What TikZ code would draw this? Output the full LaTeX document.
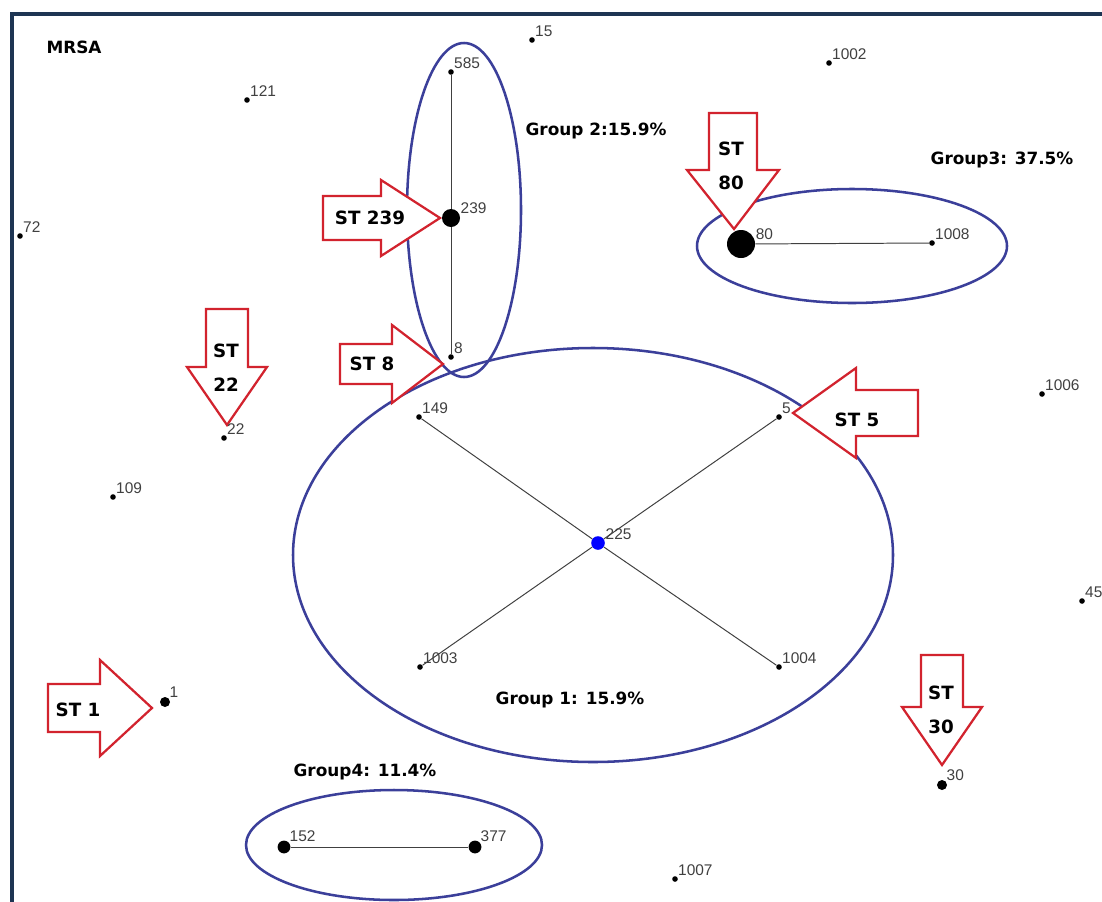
\documentclass[tikz,border=0pt]{standalone}
\usepackage{fontspec}
\setmainfont{Liberation Sans}
\newfontfamily\grpfont{DejaVu Sans}
\definecolor{grpblue}{HTML}{3B3F9A}
\definecolor{stred}{HTML}{D2232E}
\definecolor{framec}{HTML}{1E3553}
\tikzset{
  st/.style={circle,fill=black,inner sep=0pt,minimum size=1.4mm},
  num/.style={font=\fontsize{11}{12}\selectfont,text=black!75,inner sep=0.5pt},
  grp/.style={draw=grpblue,line width=1.8pt},
  link/.style={draw=black!75,line width=0.7pt},
  starrow/.style={draw=stred,fill=white,line width=1.6pt,line join=miter},
  stlabel/.style={font=\grpfont\bfseries\fontsize{13}{24}\selectfont,align=center,inner sep=0pt},
  grplabel/.style={font=\grpfont\bfseries\fontsize{12}{14}\selectfont,inner sep=0pt}
}
\begin{document}
\begin{tikzpicture}[x=0.025cm,y=-0.025cm]
\useasboundingbox (0,0) rectangle (1102,901);
\clip (0,0) rectangle (1102,901);
\fill[white] (0,0) rectangle (1102,901);
\draw[framec,line width=2.2pt] (12,14) rectangle (1130,930);

\node[grplabel] (mrsa) at (74,47) {MRSA};

% groups
\draw[grp] (593,555) ellipse [x radius=300, y radius=207];
\draw[grp] (464,210) ellipse [x radius=57, y radius=167];
\draw[grp] (852,246) ellipse [x radius=155, y radius=57];
\draw[grp] (394,845) ellipse [x radius=148, y radius=55];

\node[grplabel] (g1) at (570,700) {Group 1: 15.9\%};
\node[grplabel] (g2) at (596,131) {Group 2:15.9\%};
\node[grplabel] (g3) at (1002,160) {Group3: 37.5\%};
\node[grplabel] (g4) at (365,772) {Group4: 11.4\%};

% ST arrows
\draw[starrow] (323,196) -- (381,196) -- (381,180) -- (440,218) -- (381,256) -- (381,240) -- (323,240) -- cycle;
\draw[starrow] (340,344) -- (392,344) -- (392,325) -- (443,364) -- (392,403) -- (392,384) -- (340,384) -- cycle;
\draw[starrow] (48,684) -- (100,684) -- (100,660) -- (152,708) -- (100,756) -- (100,732) -- (48,732) -- cycle;
\draw[starrow] (918,390) -- (856,390) -- (856,368) -- (793,413) -- (856,458) -- (856,436) -- (918,436) -- cycle;
\draw[starrow] (206,309) -- (206,367) -- (187,367) -- (227,425) -- (267,367) -- (248,367) -- (248,309) -- cycle;
\draw[starrow] (709,113) -- (709,170) -- (687,170) -- (734,229) -- (779,170) -- (757,170) -- (757,113) -- cycle;
\draw[starrow] (921,655) -- (921,707) -- (902,707) -- (942,765) -- (982,707) -- (963,707) -- (963,655) -- cycle;

\node[stlabel] (l239) at (370,218) {ST 239};
\node[stlabel] (l8) at (372,364) {ST 8};
\node[stlabel] (l1) at (78,710) {ST 1};
\node[stlabel] (l5) at (857,420) {ST 5};
\node[stlabel] (l22) at (226,368) {ST\\22};
\node[stlabel] (l80) at (731,166) {ST\\80};
\node[stlabel] (l30) at (941,710) {ST\\30};

% sequence types
\node[st,label={[num]north east:15}] (s15) at (532,40) {};
\node[st,label={[num]north east:121}] (s121) at (247,100) {};
\node[st,label={[num]north east:72}] (s72) at (20,236) {};
\node[st,label={[num]north east:1002}] (s1002) at (829,63) {};
\node[st,label={[num]north east:585}] (s585) at (451,72) {};
\node[st,minimum size=4.5mm,label={[num]20:239}] (s239) at (451,218) {};
\node[st,label={[num]north east:8}] (s8) at (451,357) {};
\node[st,label={[num]north east:22}] (s22) at (224,438) {};
\node[st,label={[num]north east:109}] (s109) at (113,497) {};
\node[st,label={[num]north east:149}] (s149) at (419,417) {};
\node[st,label={[num]north east:5}] (s5) at (779,417) {};
\node[st,fill=blue,minimum size=3.4mm,label={[num]20:225}] (s225) at (598,543) {};
\node[st,label={[num]north east:1003}] (s1003) at (420,667) {};
\node[st,label={[num]north east:1004}] (s1004) at (779,667) {};
\node[st,minimum size=2.5mm,label={[num]north east:1}] (s1) at (165,702) {};
\node[st,label={[num]north east:1006}] (s1006) at (1042,394) {};
\node[st,label={[num]north east:45}] (s45) at (1082,601) {};
\node[st,minimum size=2.5mm,label={[num]north east:30}] (s30) at (942,785) {};
\node[st,label={[num]north east:1007}] (s1007) at (675,879) {};
\node[st,minimum size=3.2mm,label={[num]north east:152}] (s152) at (284,847) {};
\node[st,minimum size=3.2mm,label={[num]north east:377}] (s377) at (475,847) {};
\node[st,minimum size=7mm,label={[num]15:80}] (s80) at (741,244) {};
\node[st,label={[num]north east:1008}] (s1008) at (932,243) {};

% links
\draw[link] (s585) -- (s239) -- (s8);
\draw[link] (s149) -- (s225) -- (s1004);
\draw[link] (s5) -- (s225) -- (s1003);
\draw[link] (s80) -- (s1008);
\draw[link] (s152) -- (s377);

\end{tikzpicture}
\end{document}
